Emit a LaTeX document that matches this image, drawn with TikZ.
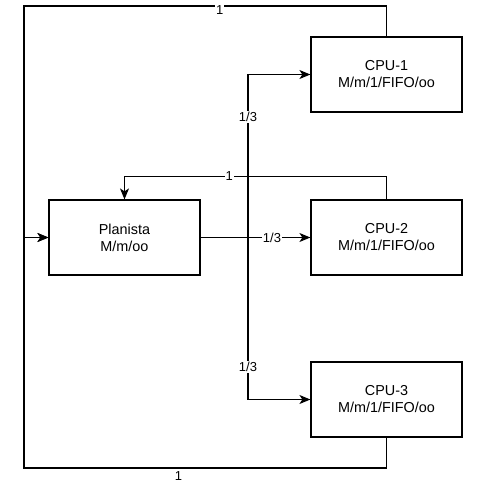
\documentclass[tikz,border=0pt]{standalone}
\usepackage{fontspec}
\setmainfont{Liberation Sans}
\usetikzlibrary{arrows.meta}
\begin{document}
\begin{tikzpicture}[x=1pt, y=-1pt, line width=1.2pt,
    >={Stealth[length=11pt, width=9pt, inset=3pt]},
    queue/.style={draw, minimum width=151pt, minimum height=75pt, inner sep=0pt,
      align=center, font=\fontsize{14.4}{17}\selectfont},
    prob/.style={fill=white, inner sep=1pt, font=\fontsize{13}{14}\selectfont}]
	\useasboundingbox (0,0) rectangle (484,491);

	% Queues
	\node[queue] (plan) at (124.5,237.5) {Planista\\M/m/oo};
	\node[queue] (cpu1) at (386.5,74.5) {CPU-1\\M/m/1/FIFO/oo};
	\node[queue] (cpu2) at (386.5,237.5) {CPU-2\\M/m/1/FIFO/oo};
	\node[queue] (cpu3) at (386.5,399.5) {CPU-3\\M/m/1/FIFO/oo};

	% Corners of the outer loop and the split point
	\coordinate (split) at (248,237.5);
	\coordinate (loopTL) at (24,6);
	\coordinate (loopBL) at (24,468);

	% Planista to the CPUs
	\draw[->] (plan) -- node[prob, pos=0.65] {1/3} (cpu2);
	\draw[->] (split) |- node[prob, pos=0.37] {1/3} (cpu1);
	\draw[->] (split) |- node[prob, pos=0.4] {1/3} (cpu3);

	% Feedback from the CPUs
	\draw[->] (cpu1.north) |- node[prob, pos=0.73, yshift=-4pt] {1} (loopTL) |- (plan.west);
	\draw[->] (cpu2.north) -- ++(0,-23) -| node[prob, pos=0.3] {1} (plan.north);
	\draw[->] (cpu3.south) |- node[prob, pos=0.787, yshift=-8pt] {1} (loopBL) |- (plan.west);

\end{tikzpicture}
\end{document}
